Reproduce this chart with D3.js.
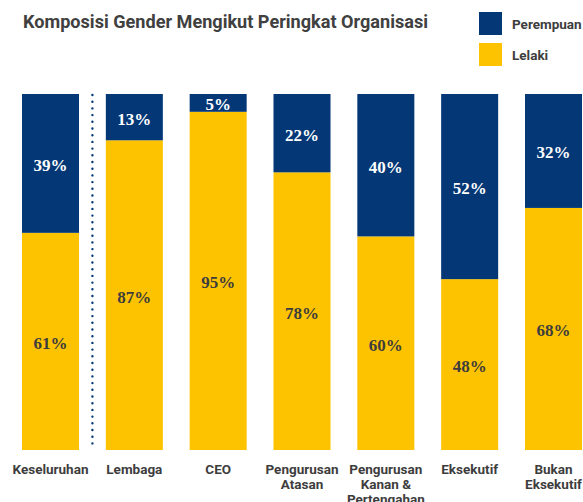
<!DOCTYPE html>
<html>
<head>
<meta charset="utf-8">
<script src="https://cdn.jsdelivr.net/npm/d3@7"></script>
<style>
  html, body { margin: 0; padding: 0; background: #fff; }
  svg { display: block; }
</style>
</head>
<body>
<svg id="chart" width="583" height="502"></svg>
<script>
// Gender composition by organisational level (percent)
const categories = [
  "Keseluruhan",
  "Lembaga",
  "CEO",
  "Pengurusan\nAtasan",
  "Pengurusan\nKanan &\nPertengahan",
  "Eksekutif",
  "Bukan\nEksekutif"
];
const perempuan = [39, 13, 5, 22, 40, 52, 32];
const lelaki    = [61, 87, 95, 78, 60, 48, 68];
const seriesNames = ["Perempuan", "Lelaki"];

const NAVY = "#033776";
const GOLD = "#fdc300";
const INK  = "#3d3d3d";

const svg = d3.select("#chart");

const x = d3.scaleBand()
  .domain(categories)
  .range([22, 582])
  .paddingInner(0.32)
  .paddingOuter(0);

const y = d3.scaleLinear().domain([0, 100]).range([450, 94]);

const color = d3.scaleOrdinal().domain(seriesNames).range([NAVY, GOLD]);

// Stack: Lelaki at the bottom, Perempuan on top
const rows = categories.map((c, i) => ({ cat: c, Lelaki: lelaki[i], Perempuan: perempuan[i] }));
const stack = d3.stack().keys(["Lelaki", "Perempuan"]);
const layers = stack(rows);

const g = svg.append("g");

layers.forEach(layer => {
  const key = layer.key;
  g.append("g")
    .selectAll("rect")
    .data(layer)
    .join("rect")
    .attr("x", d => x(d.data.cat))
    .attr("width", x.bandwidth())
    .attr("y", d => y(d[1]))
    .attr("height", d => y(d[0]) - y(d[1]))
    .attr("fill", color(key));

  g.append("g")
    .selectAll("text")
    .data(layer)
    .join("text")
    .attr("x", d => x(d.data.cat) + x.bandwidth() / 2)
    .attr("y", d => (y(d[0]) + y(d[1])) / 2 + 2)
    .attr("text-anchor", "middle")
    .attr("dominant-baseline", "central")
    .attr("font-family", "'Liberation Serif', 'DejaVu Serif', serif")
    .attr("font-weight", 700)
    .attr("font-size", 17)
    .attr("fill", key === "Perempuan" ? "#ffffff" : INK)
    .text(d => (d[1] - d[0]) + "%");
});

// Dotted separator between the overall bar and the levels
const sepX = (x(categories[0]) + x.bandwidth() + x(categories[1])) / 2;
svg.append("line")
  .attr("x1", sepX).attr("x2", sepX)
  .attr("y1", y(100) + 1).attr("y2", y(0))
  .attr("stroke", NAVY)
  .attr("stroke-width", 2.4)
  .attr("stroke-linecap", "round")
  .attr("stroke-dasharray", "0 6.7");

// Category labels (multi-line)
const labels = svg.append("g")
  .attr("font-family", "Roboto, 'DejaVu Sans', sans-serif")
  .attr("font-weight", 700)
  .attr("font-size", 13.5)
  .attr("fill", INK)
  .attr("text-anchor", "middle");

categories.forEach(c => {
  const t = labels.append("text")
    .attr("x", x(c) + x.bandwidth() / 2)
    .attr("y", 473.5);
  c.split("\n").forEach((line, j) => {
    t.append("tspan")
      .attr("x", x(c) + x.bandwidth() / 2)
      .attr("dy", j === 0 ? 0 : 15)
      .text(line);
  });
});

// Title
svg.append("text")
  .attr("x", 23)
  .attr("y", 28)
  .attr("font-family", "Roboto, 'DejaVu Sans', sans-serif")
  .attr("font-weight", 700)
  .attr("font-size", 18)
  .attr("fill", "#404040")
  .attr("textLength", 405)
  .attr("lengthAdjust", "spacingAndGlyphs")
  .text("Komposisi Gender Mengikut Peringkat Organisasi");

// Legend
const legend = svg.append("g");
seriesNames.forEach((name, i) => {
  const ly = 12 + i * 31;
  legend.append("rect")
    .attr("x", 479).attr("y", ly)
    .attr("width", 23).attr("height", 23)
    .attr("fill", color(name));
  legend.append("text")
    .attr("x", 512).attr("y", ly + 11.5)
    .attr("dominant-baseline", "central")
    .attr("font-family", "Roboto, 'DejaVu Sans', sans-serif")
    .attr("font-weight", 700)
    .attr("font-size", 13.5)
    .attr("fill", INK)
    .text(name);
});
</script>
</body>
</html>
